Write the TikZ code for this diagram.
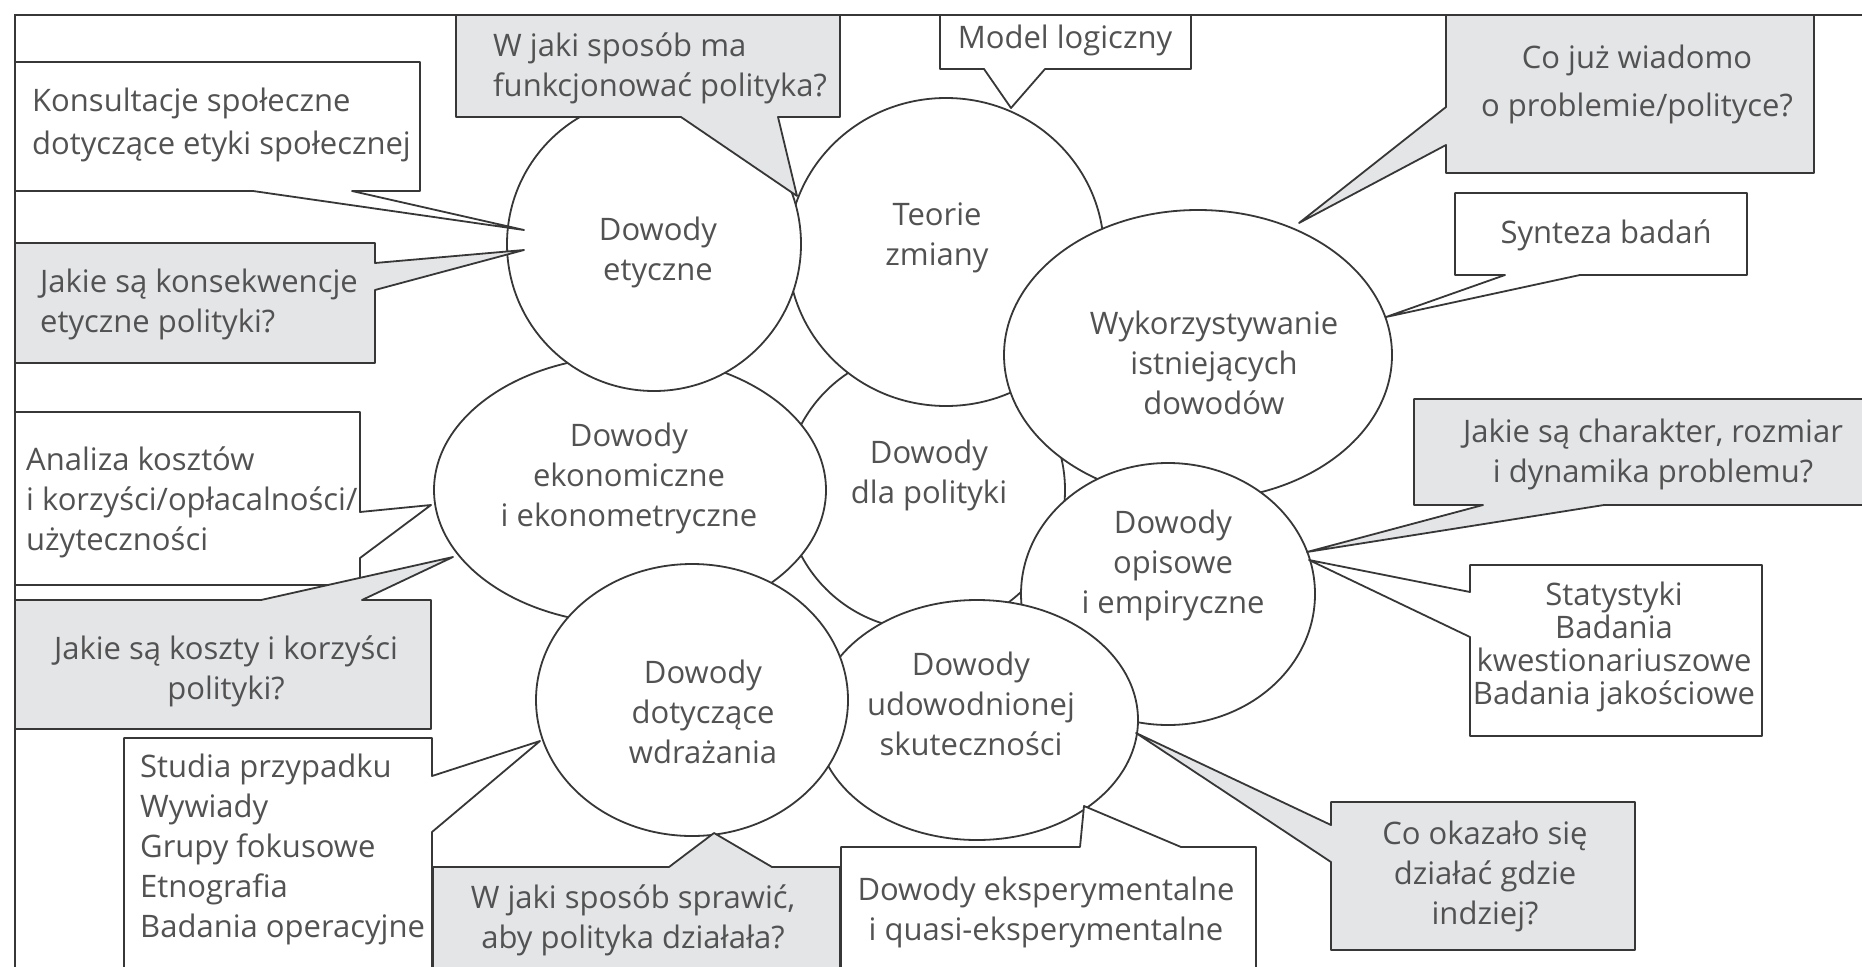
\documentclass[tikz,border=0pt]{standalone}
\usepackage{fontspec}
\setmainfont{Open Sans}
\usetikzlibrary{shapes.geometric}
\definecolor{boxgray}{RGB}{228,229,231}
\definecolor{ink}{RGB}{55,55,55}
\definecolor{txt}{RGB}{82,82,82}
\begin{document}
\begin{tikzpicture}[x=1pt,y=-1pt,
  bubble/.style={draw=ink, line width=1.8pt, line join=round, fill=white},
  gbubble/.style={bubble, fill=boxgray},
  circ/.style={ellipse, draw=ink, line width=1.8pt, fill=white, inner sep=0pt},
  lbl/.style={text=txt, font=\fontsize{31}{40}\selectfont, inner sep=0pt, align=center},
  lbll/.style={lbl, align=left, anchor=west},
  frameline/.style={draw=ink, line width=2.4pt}]
\useasboundingbox (0,0) rectangle (1862,966);

% ---- evidence ellipses (back to front) ----
\node[circ, minimum width=280pt, minimum height=280pt] (dla) at (925,490) {};
\node[lbl] (dlaT) at (929,475) {Dowody\\dla polityki};
\node[circ, minimum width=316pt, minimum height=308pt] (teorie) at (946,252) {};
\node[lbl] (teorieT) at (937,238) {Teorie\\zmiany};
\node[circ, minimum width=388pt, minimum height=290pt] (wyk) at (1198,355) {};
\node[lbl] (wykT) at (1214,363) {Wykorzystywanie\\istniejących\\dowodów};
\node[circ, minimum width=294pt, minimum height=262pt] (opis) at (1168,594) {};
\node[lbl] (opisT) at (1173,565) {Dowody\\opisowe\\i empiryczne};
\node[circ, minimum width=322pt, minimum height=240pt] (udow) at (977,720) {};
\node[lbl] (udowT) at (971,704) {Dowody\\udowodnionej\\skuteczności};
\node[circ, minimum width=392pt, minimum height=268pt] (ekon) at (630,490) {};
\node[lbl] (ekonT) at (629,478) {Dowody\\ekonomiczne\\i ekonometryczne};
\node[circ, minimum width=312pt, minimum height=272pt] (wdraz) at (692,700) {};
\node[lbl] (wdrazT) at (703,712) {Dowody\\dotyczące\\wdrażania};
\node[circ, minimum width=294pt, minimum height=294pt] (etyk) at (654,244) {};
\node[lbl] (etykT) at (658,252) {Dowody\\etyczne};

% ---- callout tips ----
\coordinate (t1) at (797,196);
\coordinate (t2) at (1011,108);
\coordinate (t3) at (1299,223);
\coordinate (t4) at (1386,317);
\coordinate (t5) at (524,230);
\coordinate (t6) at (524,250);
\coordinate (t7) at (431,505);
\coordinate (t8) at (453,557);
\coordinate (t9) at (540,741);
\coordinate (t10) at (714,833);
\coordinate (t11) at (1084,806);
\coordinate (t12) at (1136,733);
\coordinate (t13) at (1307,552);
\coordinate (t14) at (1309,560);

% ---- callout boxes ----
\draw[gbubble] (456,15) -- (840,15) -- (840,117) -- (778,117) -- (t1) -- (681,117) -- (456,117) -- cycle;
\node[lbll] (q1) at (493,68) {W jaki sposób ma\\funkcjonować polityka?};

\draw[bubble] (940,15) -- (1191,15) -- (1191,69) -- (1045,69) -- (t2) -- (984,69) -- (940,69) -- cycle;
\node[lbl] (b2) at (1065,40) {Model logiczny};

\draw[gbubble] (1446,15) -- (1814,15) -- (1814,173) -- (1446,173) -- (1446,145) -- (t3) -- (1446,107) -- cycle;
\node[lbl, font=\fontsize{31}{48}\selectfont] (q3) at (1637,84) {Co już wiadomo\\o problemie/polityce?};

\draw[bubble] (1455,193) -- (1747,193) -- (1747,275) -- (1580,275) -- (t4) -- (1505,275) -- (1455,275) -- cycle;
\node[lbl] (b4) at (1606,235) {Synteza badań};

\draw[bubble] (15,62) -- (420,62) -- (420,191) -- (352,191) -- (t5) -- (253,191) -- (15,191) -- cycle;
\node[lbll, font=\fontsize{31}{43}\selectfont] (b5) at (32,125) {Konsultacje społeczne\\dotyczące etyki społecznej};

\draw[gbubble] (15,243) -- (375,243) -- (375,263) -- (t6) -- (375,290) -- (375,363) -- (15,363) -- cycle;
\node[lbll] (q6) at (40,304) {Jakie są konsekwencje\\etyczne polityki?};

\draw[bubble] (15,412) -- (360,412) -- (360,512) -- (t7) -- (360,558) -- (360,585) -- (15,585) -- cycle;
\node[lbll] (b7) at (26,502) {Analiza kosztów\\i korzyści/opłacalności/\\użyteczności};

\draw[gbubble] (15,600) -- (261,600) -- (t8) -- (362,600) -- (431,600) -- (431,729) -- (15,729) -- cycle;
\node[lbl] (q8) at (226,671) {Jakie są koszty i korzyści\\polityki?};

\draw[bubble] (124,980) -- (124,738) -- (432,738) -- (432,776) -- (t9) -- (432,832) -- (432,980);
\node[lbll] (b9) at (140,849) {Studia przypadku\\Wywiady\\Grupy fokusowe\\Etnografia\\Badania operacyjne};

\draw[gbubble] (433,980) -- (433,867) -- (669,867) -- (t10) -- (772,867) -- (840,867) -- (840,980);
\node[lbl] (q10) at (633,920) {W jaki sposób sprawić,\\aby polityka działała?};

\draw[bubble] (841,980) -- (841,847) -- (1080,847) -- (t11) -- (1181,847) -- (1256,847) -- (1256,980);
\node[lbl] (b11) at (1046,912) {Dowody eksperymentalne\\i quasi-eksperymentalne};

\draw[gbubble] (1331,802) -- (1635,802) -- (1635,950) -- (1331,950) -- (1331,862) -- (t12) -- (1331,825) -- cycle;
\node[lbl] (q12) at (1485,876) {Co okazało się\\działać gdzie\\indziej?};

\draw[gbubble] (1880,399) -- (1414,399) -- (1414,505) -- (1483,505) -- (t13) -- (1604,505) -- (1880,505);
\node[lbl] (q13) at (1653,454) {Jakie są charakter, rozmiar\\i dynamika problemu?};

\draw[bubble] (1470,565) -- (1762,565) -- (1762,736) -- (1470,736) -- (1470,637) -- (t14) -- (1470,592) -- cycle;
\node[lbl, font=\fontsize{31}{33}\selectfont] (b14) at (1614,647) {Statystyki\\Badania\\kwestionariuszowe\\Badania jakościowe};

% ---- frame ----
\coordinate (fTL) at (15,15);
\coordinate (fTR) at (1870,15);
\coordinate (fBL) at (15,980);
\draw[frameline] (fTR) -- (fTL) -- (fBL);
\end{tikzpicture}
\end{document}
